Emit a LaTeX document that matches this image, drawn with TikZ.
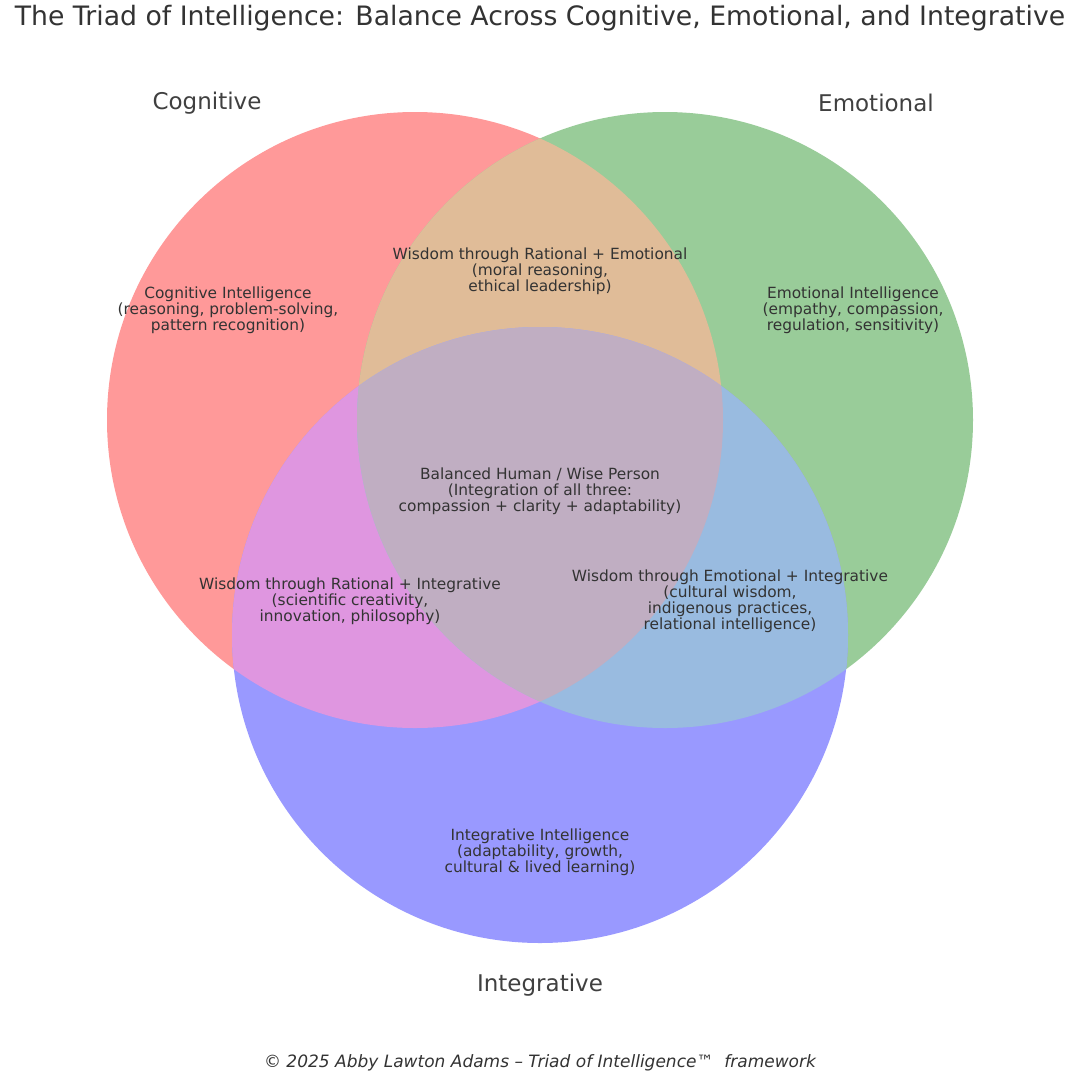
\documentclass[tikz,border=0pt]{standalone}
\usepackage{fontspec}
\setmainfont{DejaVu Sans}
\definecolor{cR}{HTML}{FF9999}
\definecolor{cG}{HTML}{99CC99}
\definecolor{cB}{HTML}{9999FF}
\definecolor{cRG}{HTML}{E0BC98}
\definecolor{cRB}{HTML}{DF96E0}
\definecolor{cGB}{HTML}{99BBE0}
\definecolor{cRGB}{HTML}{C0AEC2}
\definecolor{txt}{HTML}{333333}
\definecolor{lbl}{HTML}{404040}
\begin{document}
\begin{tikzpicture}[x=1pt,y=-1pt,
  inner/.style={align=center,text=txt,font=\fontsize{15.4}{16}\selectfont,inner sep=0pt},
  setlabel/.style={text=lbl,font=\fontsize{23}{26}\selectfont,inner sep=0pt},
  title/.style={text=txt,font=\fontsize{26.7}{30}\selectfont,inner sep=0pt},
  foot/.style={text=txt,font=\fontsize{17}{19}\selectfont\itshape,inner sep=0pt}]
\useasboundingbox[fill=white] (0,0) rectangle (1080,1080);
\coordinate (R) at (415,420);
\coordinate (G) at (665,420);
\coordinate (B) at (540,635);
\def\rad{308pt}
% single sets
\fill[cR] (R) circle[radius=\rad];
\fill[cG] (G) circle[radius=\rad];
\fill[cB] (B) circle[radius=\rad];
% pairwise
\begin{scope}
  \clip (R) circle[radius=\rad];
  \fill[cRG] (G) circle[radius=\rad];
  \fill[cRB] (B) circle[radius=\rad];
\end{scope}
\begin{scope}
  \clip (G) circle[radius=\rad];
  \fill[cGB] (B) circle[radius=\rad];
\end{scope}
\begin{scope}
  \clip (R) circle[radius=\rad];
  \clip (G) circle[radius=\rad];
  \fill[cRGB] (B) circle[radius=\rad];
\end{scope}
% texts
\node[title] (ttl) at (540,18) {The Triad of Intelligence: Balance Across Cognitive, Emotional, and Integrative};
\node[setlabel] (lc) at (207,103) {Cognitive};
\node[setlabel] (le) at (876,103) {Emotional};
\node[setlabel] (li) at (540,985) {Integrative};
\node[inner] (tc) at (228,310) {Cognitive Intelligence\\(reasoning, problem-solving,\\pattern recognition)};
\node[inner] (te) at (853,310) {Emotional Intelligence\\(empathy, compassion,\\regulation, sensitivity)};
\node[inner] (ti) at (540,852) {Integrative Intelligence\\(adaptability, growth,\\cultural \& lived learning)};
\node[inner] (trg) at (540,271) {Wisdom through Rational + Emotional\\(moral reasoning,\\ethical leadership)};
\node[inner] (trb) at (350,601) {Wisdom through Rational + Integrative\\(scientific creativity,\\innovation, philosophy)};
\node[inner] (tgb) at (730,601) {Wisdom through Emotional + Integrative\\(cultural wisdom,\\indigenous practices,\\relational intelligence)};
\node[inner] (tall) at (540,491) {Balanced Human / Wise Person\\(Integration of all three:\\compassion + clarity + adaptability)};
\node[foot] (ft) at (540,1063) {© 2025 Abby Lawton Adams – Triad of Intelligence™\ \ framework};
\end{tikzpicture}
\end{document}
